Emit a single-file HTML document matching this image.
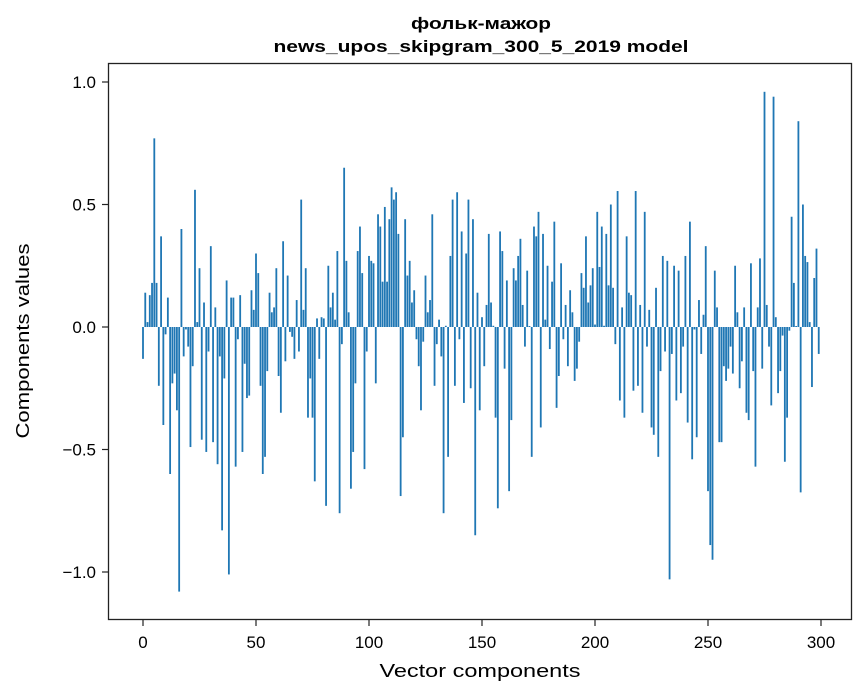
<!DOCTYPE html>
<html><head><meta charset="utf-8"><style>
body{margin:0;background:#fff;}
svg{display:block;font-family:"Liberation Sans","DejaVu Sans",sans-serif;}
</style></head><body>
<svg id="chart" width="867" height="696" viewBox="0 0 867 696">
<rect x="0" y="0" width="867" height="696" fill="#fff"/>
<text x="481" y="29" text-anchor="middle" font-size="17" font-weight="bold" textLength="140" lengthAdjust="spacingAndGlyphs">фольк-мажор</text>
<text x="481" y="52" text-anchor="middle" font-size="17" font-weight="bold" textLength="415" lengthAdjust="spacingAndGlyphs">news_upos_skipgram_300_5_2019 model</text>
<g id="bars"></g>
<g id="xticks"></g>
<g id="yticks"></g>
<rect x="108.5" y="63.5" width="743" height="556" fill="none" stroke="#222" stroke-width="1.3"/>
<text x="480" y="677" text-anchor="middle" font-size="18" textLength="201" lengthAdjust="spacingAndGlyphs">Vector components</text>
<text transform="translate(29,341) rotate(-90)" text-anchor="middle" font-size="18" textLength="195" lengthAdjust="spacingAndGlyphs">Components values</text>
</svg>
<script>
const values = [
-0.13,0.14,0.02,0.13,0.18,0.77,0.18,-0.24,0.37,-0.40,
-0.03,0.12,-0.60,-0.23,-0.19,-0.34,-1.08,0.40,-0.12,-0.01,
-0.08,-0.49,-0.16,0.56,0.02,0.24,-0.46,0.10,-0.51,-0.10,
0.33,-0.47,0.08,-0.56,-0.12,-0.83,-0.21,0.19,-1.01,0.12,
0.12,-0.57,-0.05,0.13,-0.51,-0.15,-0.29,-0.28,0.15,0.07,
0.30,0.22,-0.24,-0.60,-0.53,-0.18,0.14,0.06,0.08,0.24,
-0.20,-0.35,0.35,-0.14,0.21,-0.02,-0.04,-0.13,0.11,-0.10,
0.52,0.07,0.24,-0.37,-0.21,-0.37,-0.63,0.035,-0.13,0.04,
0.035,-0.73,0.25,0.08,0.14,0.03,0.31,-0.76,-0.07,0.65,
0.27,0.06,-0.66,-0.51,-0.23,0.31,0.41,0.22,-0.58,-0.10,
0.29,0.27,0.26,-0.23,0.46,0.41,0.185,0.49,0.185,0.44,
0.57,0.52,0.55,0.38,-0.69,-0.45,0.44,0.21,0.27,0.10,
0.15,-0.05,-0.16,-0.34,-0.06,0.21,0.06,0.11,0.46,-0.24,
-0.07,0.03,-0.12,-0.76,0.005,-0.53,0.29,0.52,-0.24,0.55,
-0.05,0.39,-0.31,0.30,0.52,-0.25,0.44,-0.85,0.14,-0.34,
0.04,-0.16,0.09,0.38,0.10,0.005,-0.37,-0.74,0.39,0.31,
-0.17,0.19,-0.67,-0.38,0.24,0.19,0.29,0.36,0.09,-0.08,
0.23,0.004,-0.53,0.41,0.37,0.47,-0.41,0.38,0.03,0.25,
-0.09,0.185,0.43,-0.33,-0.20,0.26,-0.05,0.09,-0.16,0.15,
0.06,-0.22,-0.17,-0.06,0.22,0.16,0.37,0.10,0.17,0.24,
0.01,0.47,0.245,0.41,0.005,0.38,0.17,0.50,0.16,-0.07,
0.555,-0.30,0.08,-0.37,0.37,0.14,0.13,-0.26,0.555,-0.24,
0.09,-0.35,0.47,-0.08,0.07,-0.41,-0.44,0.16,-0.53,-0.18,
0.29,-0.10,0.27,-1.03,-0.11,0.25,-0.30,0.23,-0.27,-0.08,
0.29,-0.39,0.43,-0.54,-0.01,-0.45,0.11,-0.11,0.05,0.33,
-0.67,-0.89,-0.95,0.23,0.08,-0.47,-0.47,-0.16,-0.22,-0.17,
-0.08,-0.19,0.25,0.06,-0.25,-0.14,0.08,-0.35,-0.38,0.26,
-0.18,-0.57,0.08,0.28,-0.17,0.96,0.09,-0.08,-0.32,0.94,
0.04,-0.27,-0.18,-0.035,-0.55,-0.37,-0.015,0.45,0.18,0.004,
0.84,-0.675,0.50,0.29,0.265,0.02,-0.245,0.20,0.32,-0.11
];
const xTickLabels = ["0","50","100","150","200","250","300"];
const xTickValues = [0,50,100,150,200,250,300];
const yTickValues = [-1.0,-0.5,0.0,0.5,1.0];
const yTickLabels = ["\u22121.0","\u22120.5","0.0","0.5","1.0"];

const NS = "http://www.w3.org/2000/svg";
const x0 = 143, x300 = 821;
function xs(v){ return x0 + (x300 - x0) * v / 300; }
function ys(v){ return 327 - 245 * v; }

const barsG = document.getElementById('bars');
const bw = (x300 - x0) / 300 * 0.8;
values.forEach((v, i) => {
  const r = document.createElementNS(NS, 'rect');
  const y1 = ys(Math.max(v, 0)), y2 = ys(Math.min(v, 0));
  r.setAttribute('x', xs(i) - bw / 2);
  r.setAttribute('y', y1);
  r.setAttribute('width', bw);
  r.setAttribute('height', Math.max(y2 - y1, 0.3));
  r.setAttribute('fill', '#1f77b4');
  
  
  barsG.appendChild(r);
});

const xg = document.getElementById('xticks');
xTickValues.forEach((v, i) => {
  const l = document.createElementNS(NS, 'line');
  l.setAttribute('x1', xs(v)); l.setAttribute('x2', xs(v));
  l.setAttribute('y1', 620); l.setAttribute('y2', 626);
  l.setAttribute('stroke', '#222'); l.setAttribute('stroke-width', '1.2');
  
  
  xg.appendChild(l);
  const t = document.createElementNS(NS, 'text');
  t.setAttribute('x', xs(v)); t.setAttribute('y', 648);
  t.setAttribute('text-anchor', 'middle'); t.setAttribute('font-size', '17');
  t.textContent = xTickLabels[i];
  
  
  xg.appendChild(t);
});

const yg = document.getElementById('yticks');
yTickValues.forEach((v, i) => {
  const l = document.createElementNS(NS, 'line');
  l.setAttribute('x1', 102); l.setAttribute('x2', 108);
  l.setAttribute('y1', ys(v)); l.setAttribute('y2', ys(v));
  l.setAttribute('stroke', '#222'); l.setAttribute('stroke-width', '1.2');
  
  
  yg.appendChild(l);
  const t = document.createElementNS(NS, 'text');
  t.setAttribute('x', 96); t.setAttribute('y', ys(v) + 6);
  t.setAttribute('text-anchor', 'end'); t.setAttribute('font-size', '17');
  t.textContent = yTickLabels[i];
  
  
  yg.appendChild(t);
});
</script>
</body></html>
